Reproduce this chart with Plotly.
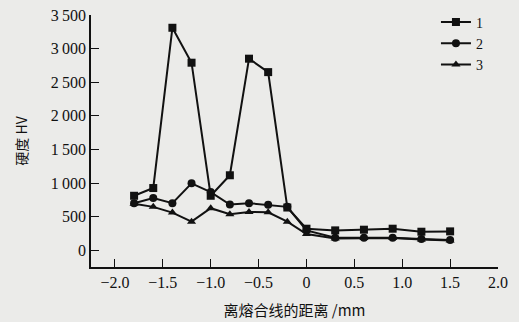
import plotly.graph_objects as go

# Data
distance = [-1.8, -1.6, -1.4, -1.2, -1.0, -0.8, -0.6, -0.4, -0.2, 0.0, 0.3, 0.6, 0.9, 1.2, 1.5]
hv_1 = [810, 925, 3310, 2790, 810, 1115, 2850, 2650, 635, 320, 295, 305, 320, 275, 280]
hv_2 = [700, 775, 700, 995, 865, 680, 700, 675, 645, 295, 185, 185, 185, 165, 150]
hv_3 = [690, 645, 560, 425, 625, 535, 570, 565, 425, 240, 175, 180, 180, 160, 145]
series_names = ["1", "2", "3"]
symbols = ["square", "circle", "triangle-up"]

x_tickvals = [-2.0, -1.5, -1.0, -0.5, 0.0, 0.5, 1.0, 1.5, 2.0]
x_ticktext = ["\u22122.0", "\u22121.5", "\u22121.0", "\u22120.5", "0", "0.5", "1.0", "1.5", "2.0"]
y_tickvals = [0, 500, 1000, 1500, 2000, 2500, 3000, 3500]
y_ticktext = ["0", "500", "1\u2009000", "1\u2009500", "2\u2009000", "2\u2009500", "3\u2009000", "3\u2009500"]

SERIF = "Liberation Serif"
CJK = "Noto Sans CJK SC"

fig = go.Figure()
for name, ys, sym in zip(series_names, [hv_1, hv_2, hv_3], symbols):
    fig.add_trace(go.Scatter(
        x=distance, y=ys, name=name, mode="lines+markers",
        line=dict(color="#111111", width=2),
        marker=dict(symbol=sym, size=8, color="#111111"),
    ))

fig.update_layout(
    width=519, height=322,
    margin=dict(l=91, r=21, t=15, b=55, autoexpand=False),
    paper_bgcolor="#ebebe9", plot_bgcolor="#ebebe9",
    showlegend=True,
    legend=dict(
        xref="container", yref="container",
        x=0.84, y=0.98, xanchor="left", yanchor="top",
        bgcolor="rgba(0,0,0,0)", font=dict(family=SERIF, size=14, color="#111111"),
        tracegroupgap=0, itemwidth=30,
    ),
    font=dict(family=SERIF, color="#111111"),
)

fig.update_xaxes(
    range=[-2.25, 2.0], tickvals=x_tickvals, ticktext=x_ticktext,
    ticks="inside", ticklen=8, tickwidth=1.2, tickcolor="#111111",
    showline=True, linecolor="#111111", linewidth=1.5,
    showgrid=False, zeroline=False,
    tickfont=dict(family=SERIF, size=16, color="#111111"),
    title=dict(text="离熔合线的距离 /mm", font=dict(family=CJK, size=15, color="#111111"), standoff=16),
)
fig.update_yaxes(
    range=[-250, 3500], tickvals=y_tickvals, ticktext=y_ticktext,
    ticks="inside", ticklen=8, tickwidth=1.2, tickcolor="#111111",
    showline=True, linecolor="#111111", linewidth=1.5,
    showgrid=False, zeroline=False,
    tickfont=dict(family=SERIF, size=16, color="#111111"),
    title=dict(text="硬度 HV", font=dict(family=CJK, size=14, color="#111111"), standoff=20),
)

fig.write_html("out.html")
